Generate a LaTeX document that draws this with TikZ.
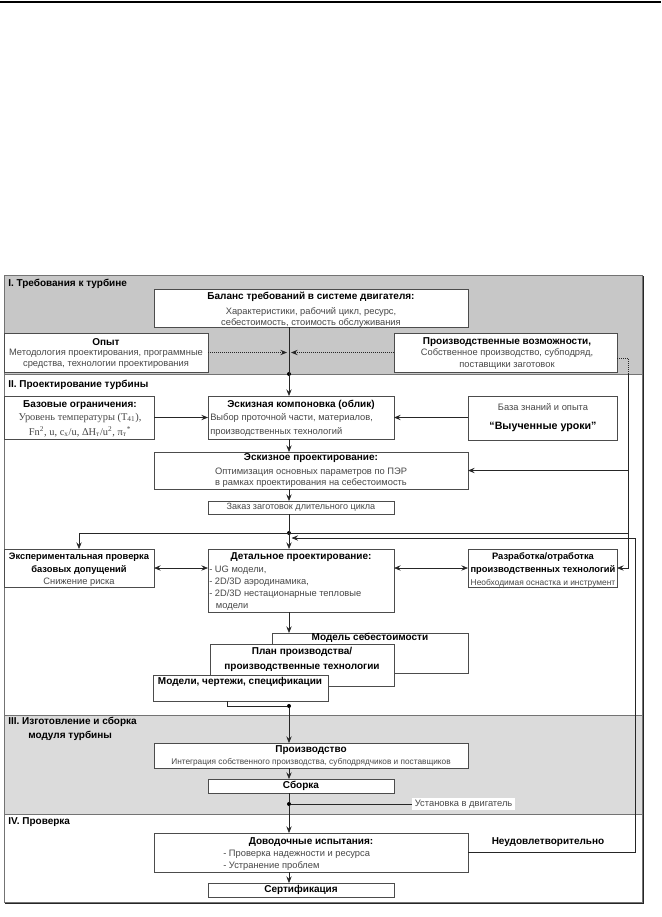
\documentclass[tikz,border=0pt]{standalone}
\usepackage{fontspec}
\setmainfont{Liberation Sans}
\newfontfamily\serifcyr{Liberation Serif}
\usetikzlibrary{arrows.meta}
\newcommand\mybox[6][]{%
  \node[box,#1,minimum width={(#5-#3)*0.75pt},minimum height={(#6-#4)*0.75pt}] (#2) at ({(#3+#5)/2},{(#4+#6)/2}) {};}
\begin{document}
\begin{tikzpicture}[x=0.75pt,y=-0.75pt,
  box/.style={draw=black!70,fill=white,line width=0.6pt,inner sep=0pt,outer sep=0pt},
  tb/.style={font=\bfseries\fontsize{7.5}{9}\selectfont,text=black,inner sep=0pt,align=center},
  tr/.style={font=\fontsize{7}{8.5}\selectfont,text=black!72,inner sep=0pt,align=center},
  ts/.style={font=\fontsize{6.3}{8}\selectfont,text=black!72,inner sep=0pt,align=center},
  hd/.style={font=\bfseries\fontsize{7.5}{11}\selectfont,text=black,inner sep=0pt,align=left,anchor=west},
  conn/.style={line width=0.5pt,black!85},
  arr/.style={conn,-{Stealth[length=5pt,width=4pt,inset=1.8pt]}},
  arr2/.style={conn,{Stealth[length=5pt,width=4pt,inset=1.8pt]}-{Stealth[length=5pt,width=4pt,inset=1.8pt]}},
  dot/.style={circle,fill=black,inner sep=0pt,minimum size=3pt}]
\useasboundingbox (0,0) rectangle (661,917);
% top rule
\draw[line width=1.2pt] (0,2) -- (661,2);
% sections
\fill[black!22] (4,275) rectangle (642,374);
\fill[black!14] (4,715) rectangle (642,814);
\draw[black!55,line width=0.6pt] (4,374) -- (642,374) (4,715) -- (642,715) (4,814) -- (642,814);
\draw[black!55,line width=0.7pt] (4,275) rectangle (642,902);
\draw[black!85,line width=1.3pt] (643.5,276) -- (643.5,903.5) -- (5,903.5);
% headers
\node[hd] (h1) at (8,284) {I. Требования к турбине};
\node[hd] (h2) at (8,385) {II. Проектирование турбины};
\node[hd] (h3) at (8,729) {III. Изготовление и сборка\\\hspace*{15pt}модуля турбины};
\node[hd] (h4) at (8,822) {IV. Проверка};
% boxes
\mybox{bal}{154}{289}{468}{327}
\mybox{opyt}{4}{333}{208}{372}
\mybox{proizv}{394}{333}{617}{372}
\mybox{baz}{4}{396}{154}{439}
\mybox{esk}{208}{396}{394}{439}
\mybox{bzo}{468}{396}{617}{440}
\mybox{eskpr}{154}{452}{468}{489}
\mybox{zakaz}{208}{501}{394}{514}
\mybox{exp}{4}{549}{154}{587}
\mybox{det}{208}{549}{394}{612}
\mybox{razr}{468}{549}{617}{587}
\mybox{mods}{272}{633}{468}{673}
\mybox{plan}{210}{644}{394}{686}
\mybox{modch}{153}{675}{328}{701}
\mybox{prod}{154}{743}{468}{768}
\mybox{sbor}{208}{779}{394}{793}
\mybox{dov}{154}{833}{468}{872}
\mybox{sert}{208}{883}{394}{897}
% texts
\node[tb] (bal-t) at (311,297) {Баланс требований в системе двигателя:};
\node[tr] (bal-b) at (311,317.5) {Характеристики, рабочий цикл, ресурс,\\себестоимость, стоимость обслуживания};
\node[tb] (opyt-t) at (106,342) {Опыт};
\node[tr] (opyt-b) at (106,359) {Методология проектирования, программные\\средства, технологии проектирования};
\node[tb] (proizv-t) at (507,342) {Производственные возможности,};
\node[tr] (proizv-b) at (507,359) {Собственное производство, субподряд,\\поставщики заготовок};
\node[tb] (baz-t) at (80,405) {Базовые ограничения:};
\node[tr,font=\serifcyr\fontsize{7.8}{11}\selectfont] (baz-b) at (80,425) {Уровень температуры (T\textsubscript{41}),\\Fn\textsuperscript{2}, u, c\textsubscript{x}/u, ΔH\textsubscript{т}/u\textsuperscript{2}, π\textsubscript{т}\textsuperscript{*}};
\node[tb] (esk-t) at (301,405) {Эскизная компоновка (облик)};
\node[tr,align=left,anchor=west,font=\fontsize{7}{10.5}\selectfont] (esk-b) at (210,425) {Выбор проточной части, материалов,\\производственных технологий};
\node[tr] (bzo-t) at (543,407) {База знаний и опыта};
\node[tb,font=\bfseries\fontsize{8}{9}\selectfont] (bzo-b) at (543,427) {“Выученные уроки”};
\node[tb] (eskpr-t) at (311,458) {Эскизное проектирование:};
\node[tr] (eskpr-b) at (311,477.5) {Оптимизация основных параметров по ПЭР\\в рамках проектирования на себестоимость};
\node[tr,font=\fontsize{6.8}{8}\selectfont] (zakaz-t) at (301,507.5) {Заказ заготовок длительного цикла};
\node[tb,font=\bfseries\fontsize{7}{9.5}\selectfont] (exp-t) at (79,563.5) {Экспериментальная проверка\\базовых допущений};
\node[tr] (exp-b) at (79,582) {Снижение риска};
\node[tb] (det-t) at (301,557) {Детальное проектирование:};
\node[tr,align=left,anchor=north west,font=\fontsize{7}{9}\selectfont] (det-b) at (209,565.5) {- UG модели,\\- 2D/3D аэродинамика,\\- 2D/3D нестационарные тепловые\\\hspace*{5pt}модели};
\node[tb,font=\bfseries\fontsize{7}{9.5}\selectfont] (razr-t) at (543,563.5) {Разработка/отработка\\производственных технологий};
\node[ts] (razr-b) at (543,583) {Необходимая оснастка и инструмент};
\node[tb] (mods-t) at (370,637.5) {Модель себестоимости};
\node[tb,font=\bfseries\fontsize{7.5}{11}\selectfont] (plan-t) at (302,659.5) {План производства/\\производственные технологии};
\node[tb] (modch-t) at (240,682) {Модели, чертежи, спецификации};
\node[tb] (prod-t) at (311,750) {Производство};
\node[ts,font=\fontsize{6.2}{8}\selectfont] (prod-b) at (311,762) {Интеграция собственного производства, субподрядчиков и поставщиков};
\node[tb] (sbor-t) at (301,786) {Сборка};
\node[tb] (dov-t) at (311,842) {Доводочные испытания:};
\node[tr,align=left,anchor=north west,font=\fontsize{7}{9}\selectfont] (dov-b) at (223,849.5) {- Проверка надежности и ресурса\\- Устранение проблем};
\node[tb] (sert-t) at (301,890) {Сертификация};
\node[tb] (neud) at (548,842) {Неудовлетворительно};
% coordinates
\coordinate (v) at (289,0);
\coordinate (mL) at (287,352.5);
\coordinate (mR) at (291,352.5);
\coordinate (r1) at (628,358);
\coordinate (r2) at (628,374);
\coordinate (l1) at (635,538);
\coordinate (lend) at (291.5,538);
\coordinate (m1) at (227,706);
\node[dot] (d1) at (289,374) {};
\node[dot] (d2) at (289,533) {};
\node[dot] (d3) at (289,706) {};
\node[dot] (d4) at (289,804) {};
\node[tr,fill=white,anchor=west,inner xsep=2pt,inner ysep=1.5pt] (ust) at (412,804) {Установка в двигатель};
% connectors
\draw[arr] (bal.south -| v) -- (esk.north -| v);
\draw[arr,densely dotted] (opyt.east) -- (mL);
\draw[arr,densely dotted] (proizv.west) -- (mR);
\draw[conn,densely dotted] (proizv.east |- r1) -- (r1) -- (r2);
\draw[arr] (r2) -- (r1 |- razr.east) -- (razr.east);
\draw[arr] (r1 |- eskpr.east) -- (eskpr.east);
\draw[arr] (baz.east |- esk.west) -- (esk.west);
\draw[arr] (bzo.west |- esk.east) -- (esk.east);
\draw[arr] (esk.south -| v) -- (eskpr.north -| v);
\draw[arr] (eskpr.south -| v) -- (zakaz.north -| v);
\draw[arr] (zakaz.south -| v) -- (det.north -| v);
\draw[conn] (r1 |- d2) -- (exp.north |- d2);
\draw[arr] (exp.north |- d2) -- (exp.north);
\draw[arr2] (exp.east) -- (exp.east -| det.west);
\draw[arr2] (det.east |- razr.west) -- (razr.west);
\draw[arr] (dov.east) -- (dov.east -| l1) -- (l1) -- (lend);
\draw[arr] (det.south -| v) -- (mods.north -| v);
\draw[conn] (modch.south -| m1) -- (m1) -- (d3);
\draw[arr] (d3) -- (prod.north -| v);
\draw[arr] (prod.south -| v) -- (sbor.north -| v);
\draw[conn] (sbor.south -| v) -- (d4);
\draw[arr] (d4) -- (dov.north -| v);
\draw[conn] (d4) -- (ust.west);
\draw[arr] (dov.south -| v) -- (sert.north -| v);
\end{tikzpicture}
\end{document}
